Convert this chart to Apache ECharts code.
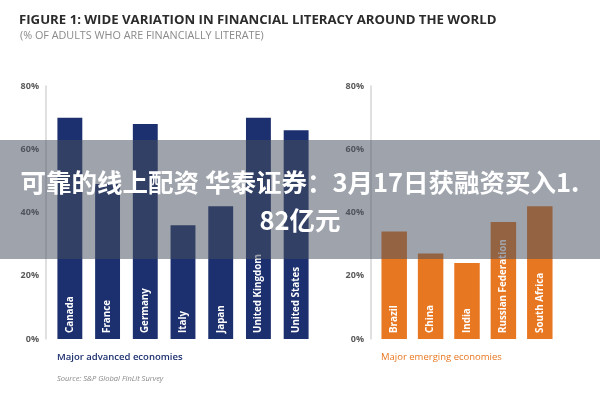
<!DOCTYPE html>
<html>
<head>
<meta charset="utf-8">
<script src="https://cdn.jsdelivr.net/npm/echarts@6/dist/echarts.min.js"></script>
<style>html,body{margin:0;padding:0;background:#fff;}#c{width:600px;height:400px;}</style>
</head>
<body>
<div id="c"></div>
<script>
const advancedCountries = ['Canada','France','Germany','Italy','Japan','United Kingdom','United States'];
const advancedValues = [70, 49, 68, 36, 42, 70, 66];
const emergingCountries = ['Brazil','China','India','Russian Federation','South Africa'];
const emergingValues = [34, 27, 24, 37, 42];
const yMax = 80, yStep = 20;

const titleText = 'FIGURE 1: WIDE VARIATION IN FINANCIAL LITERACY AROUND THE WORLD';
const subtitleText = '(% OF ADULTS WHO ARE FINANCIALLY LITERATE)';
const advancedLabel = 'Major advanced economies';
const emergingLabel = 'Major emerging economies';
const sourceText = 'Source: S&P Global FinLit Survey';
const overlayText = '可靠的线上配资 华泰证券：3月17日获融资买入1.\n82亿元';

const navy = '#1c2f6e';
const orange = '#e87722';

const chart = echarts.init(document.getElementById('c'), null, {renderer:'canvas'});

function yAxisCfg(idx){
  return {
    type:'value', gridIndex: idx, min:0, max:yMax, interval:yStep, offset:5,
    axisLine:{show:true, lineStyle:{color:'#d6d6d6', width:1.5}},
    axisTick:{show:false}, splitLine:{show:false},
    axisLabel:{formatter:'{value}%', color:'#5a5a5a', fontSize:9, fontWeight:'bold', fontFamily:'Open Sans', margin:7}
  };
}
function xAxisCfg(idx, cats){
  return {
    type:'category', gridIndex: idx, data: cats,
    axisLine:{show:false}, axisTick:{show:false}, axisLabel:{show:false}
  };
}
function barLabel(){
  return {
    show:true, position:'insideBottom', rotate:90, align:'left', verticalAlign:'middle',
    distance:6, color:'#fff', fontSize:9.8, fontWeight:'bold', fontFamily:'Open Sans',
    formatter: p => p.name
  };
}

chart.setOption({
  animation:false,
  grid:[
    {left:51, top:86, width:264, height:253},
    {left:376, top:86, width:182, height:253}
  ],
  xAxis:[xAxisCfg(0, advancedCountries), xAxisCfg(1, emergingCountries)],
  yAxis:[yAxisCfg(0), yAxisCfg(1)],
  series:[
    {type:'bar', xAxisIndex:0, yAxisIndex:0, data:advancedValues, barCategoryGap:'34%',
     itemStyle:{color:navy}, label:barLabel()},
    {type:'bar', xAxisIndex:1, yAxisIndex:1, data:emergingValues, barCategoryGap:'30%',
     itemStyle:{color:orange}, label:barLabel()}
  ],
  graphic:[
    {type:'text', left:19, top:14, style:{text:titleText, fill:'#2b2b2b', font:'bold 13.2px "Open Sans"'}},
    {type:'text', left:20, top:30, style:{text:subtitleText, fill:'#8a8a8a', font:'10.8px "Open Sans"'}},
    {type:'text', left:57, top:352, style:{text:advancedLabel, fill:navy, font:'600 9.5px "Open Sans"'}},
    {type:'text', left:57, top:375, style:{text:sourceText, fill:'#8a8a8a', font:'italic 7.5px "Open Sans"'}},
    {type:'text', left:381, top:352, style:{text:emergingLabel, fill:orange, font:'9.5px "Open Sans"'}},
    {type:'rect', left:0, top:140, shape:{x:0, y:0, width:600, height:119}, style:{fill:'rgba(70,80,95,0.52)'}, z:100},
    {type:'text', x:300, y:163, z:101, style:{text:overlayText, fill:'#ffffff', align:'center', verticalAlign:'top',
      font:'bold 25.5px "Noto Sans CJK SC"', lineHeight:38}}
  ]
});
</script>
</body>
</html>
